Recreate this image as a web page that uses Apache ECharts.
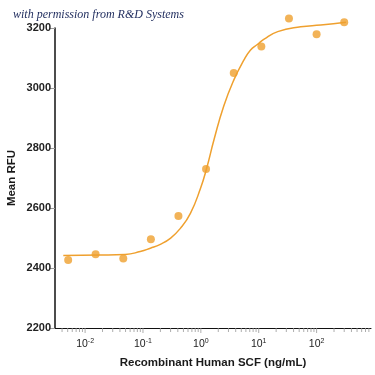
<!DOCTYPE html>
<html><head><meta charset="utf-8">
<script src="https://cdn.jsdelivr.net/npm/echarts@6/dist/echarts.min.js"></script>
<style>html,body{margin:0;padding:0;background:#fff}#c{width:375px;height:375px}</style>
</head><body><div id="c"></div>
<script>
// measured points (ng/mL, Mean RFU)
var pointConc = [0.0051, 0.0152, 0.0457, 0.137, 0.41, 1.23, 3.7, 11.1, 33.3, 100, 300];
var pointRFU  = [2427, 2446, 2432, 2496, 2573, 2730, 3050, 3138, 3232, 3179, 3219];
// fitted curve
var curveConc = [0.0042, 0.0182, 0.0493, 0.0897, 0.134, 0.1995, 0.297, 0.443, 0.66, 0.984, 1.25, 1.7, 2.49, 3.72, 5.53, 7.23, 9.45, 12.2, 21.3, 53.2, 118, 321];
var curveRFU  = [2442, 2443, 2445, 2455, 2466, 2479, 2499, 2532, 2582, 2665, 2730, 2830, 2940, 3027, 3093, 3127, 3145, 3162, 3188, 3204, 3210, 3219];
var yTicks = [2200, 2400, 2600, 2800, 3000, 3200];
var xDecades = [-2, -1, 0, 1, 2];

var FONT = "'Liberation Sans', Arial, sans-serif";
var ORANGE = '#EFA02E';
var xMin = -2.52, xMax = 2.94;

var majorTicks = [], minorTicks = [];
for (var e = -3; e <= 2; e++) {
  for (var k = 1; k <= 9; k++) {
    var lv = Math.log10(k) + e;
    if (lv < xMin || lv > xMax) continue;
    if (k === 1) majorTicks.push([lv, 2200]); else minorTicks.push([lv, 2200]);
  }
}

var chart = echarts.init(document.getElementById('c'));
chart.setOption({
  animation: false,
  title: {
    text: 'with permission from R&D Systems',
    left: 8, top: 4,
    textStyle: {fontFamily: "'Liberation Serif','DejaVu Serif',serif", fontStyle: 'italic', fontWeight: 'normal', fontSize: 12, color: '#1d2a5c'}
  },
  grid: {left: 55, right: 4, top: 28, bottom: 47, containLabel: false, outerBoundsMode: 'none'},
  xAxis: {
    type: 'value', min: xMin, max: xMax,
    name: 'Recombinant Human SCF (ng/mL)', nameLocation: 'middle', nameGap: 29, nameMoveOverlap: false,
    nameTextStyle: {fontFamily: FONT, fontWeight: 'bold', fontSize: 11.5, color: '#1a1a1a'},
    axisLine: {onZero: false, lineStyle: {color: '#111', width: 1}},
    axisTick: {show: false},
    splitLine: {show: false},
    axisLabel: {
      margin: 10,
      customValues: xDecades,
      formatter: function (v) { return '{b|10}{s|' + v + '}'; },
      rich: {
        b: {fontFamily: FONT, fontSize: 10.5, color: '#222'},
        s: {fontFamily: FONT, fontSize: 7, color: '#222', verticalAlign: 'top', padding: [0, 0, 5, 0]}
      }
    }
  },
  yAxis: {
    type: 'value', min: 2200, max: 3200, interval: 200,
    name: 'Mean RFU', nameLocation: 'middle', nameGap: 37, nameRotate: 90, nameMoveOverlap: false,
    nameTextStyle: {fontFamily: FONT, fontWeight: 'bold', fontSize: 11.5, color: '#1a1a1a'},
    axisLine: {show: true, onZero: false, lineStyle: {color: '#111', width: 1.5}},
    axisTick: {show: true, length: 6, lineStyle: {color: '#999'}},
    splitLine: {show: false},
    axisLabel: {fontFamily: FONT, fontWeight: 'bold', fontSize: 11, color: '#222', margin: 4,
      customValues: yTicks, formatter: function (v) { return String(v); }}
  },
  series: [
    {type: 'line', smooth: 0.5, showSymbol: false, silent: true, clip: false,
      lineStyle: {color: ORANGE, width: 1.5},
      data: curveConc.map(function (c, i) { return [Math.log10(c), curveRFU[i]]; })},
    {type: 'scatter', symbolSize: 8, silent: true, clip: false, itemStyle: {color: ORANGE},
      data: pointConc.map(function (c, i) { return [Math.log10(c), pointRFU[i]]; })},
    {type: 'scatter', symbol: 'rect', symbolSize: [1, 5], symbolOffset: [0, 2.5], clip: false, silent: true,
      itemStyle: {color: '#999'}, data: majorTicks},
    {type: 'scatter', symbol: 'rect', symbolSize: [1, 4], symbolOffset: [0, 2], clip: false, silent: true,
      itemStyle: {color: '#999'}, data: minorTicks}
  ]
});
</script></body></html>
